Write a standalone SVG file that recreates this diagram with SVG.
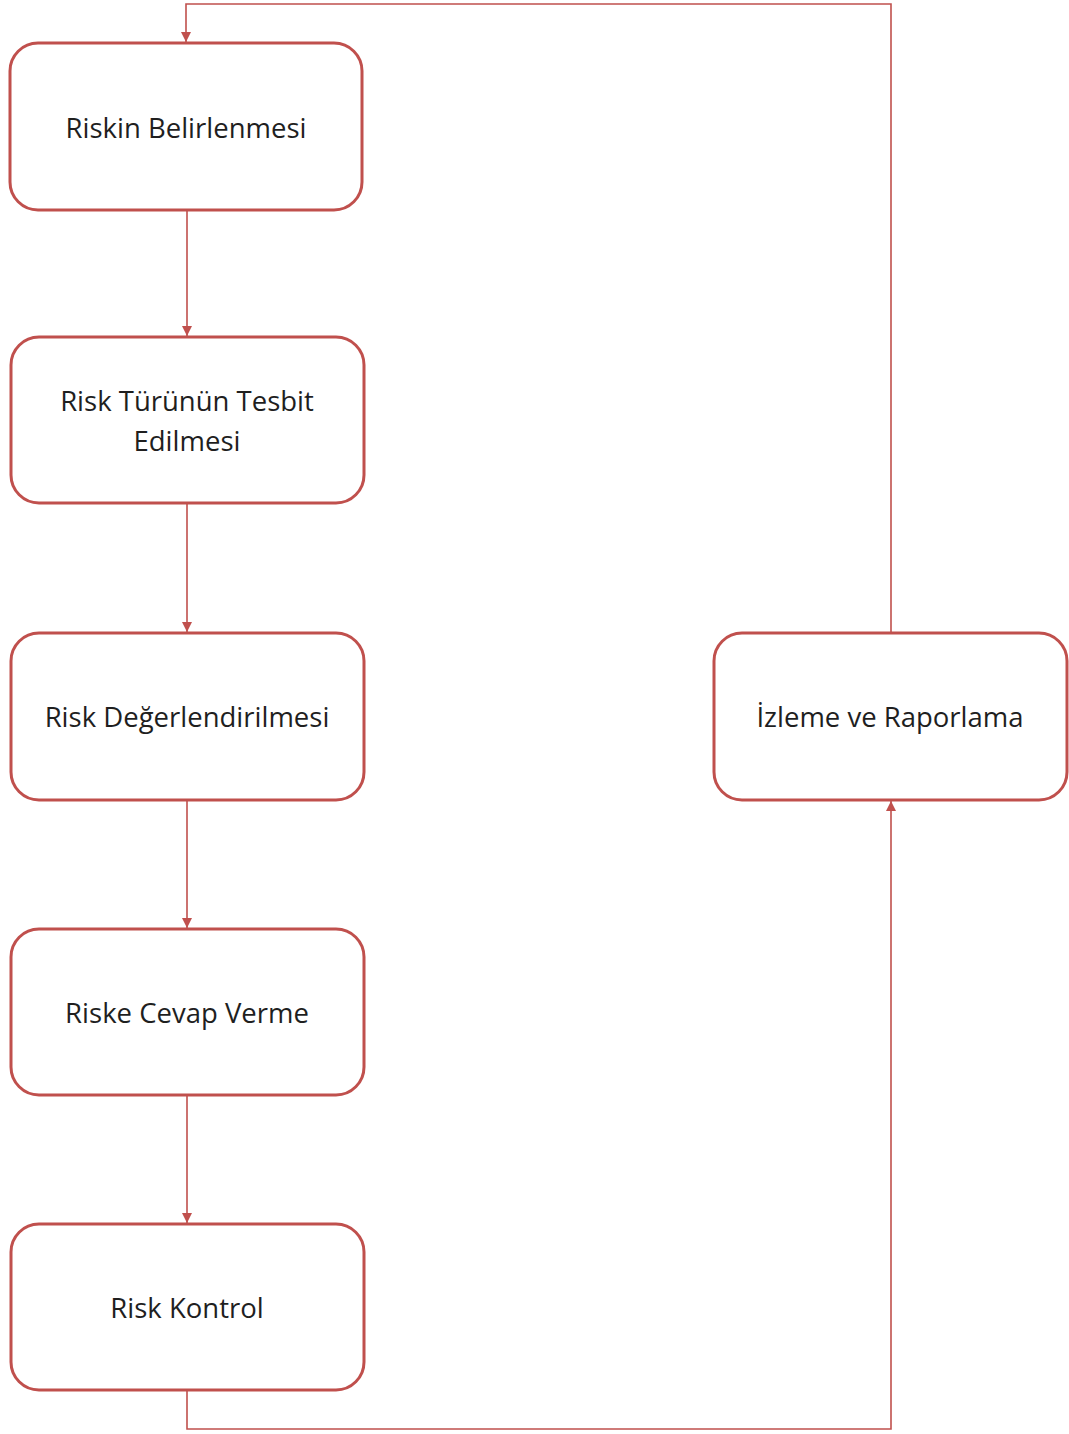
<svg xmlns="http://www.w3.org/2000/svg" width="1069" height="1434" viewBox="0 0 1069 1434">
<defs>
<marker id="arr" markerWidth="10" markerHeight="10" refX="10" refY="5" orient="auto" markerUnits="userSpaceOnUse">
<path d="M0,0 L10,5 L0,10 Z" fill="#C0504D"/>
</marker>
<style>
.box{fill:#fff;stroke:#C0504D;stroke-width:3}
.lbl{font-family:"Open Sans","Liberation Sans",sans-serif;font-size:27.5px;fill:#1f1f1f;text-anchor:middle}
.con{fill:none;stroke:#C0504D;stroke-width:1.6}
</style>
</defs>
<rect width="1069" height="1434" fill="#fff"/>
<g id="connectors">
<path class="con" d="M187,1390 V1429 H891 V801" marker-end="url(#arr)"/>
<path class="con" d="M891,633 V4 H186 V42" marker-end="url(#arr)"/>
<path class="con" d="M187,210 V336" marker-end="url(#arr)"/>
<path class="con" d="M187,503 V632" marker-end="url(#arr)"/>
<path class="con" d="M187,800 V928" marker-end="url(#arr)"/>
<path class="con" d="M187,1095 V1223" marker-end="url(#arr)"/>
</g>
<g id="n1"><rect class="box" x="10" y="43" width="352" height="167" rx="28"/><text class="lbl" x="186" y="138">Riskin Belirlenmesi</text></g>
<g id="n2"><rect class="box" x="11" y="337" width="353" height="166" rx="28"/><text class="lbl" x="187" y="411">Risk Türünün Tesbit</text><text class="lbl" x="187" y="451">Edilmesi</text></g>
<g id="n3"><rect class="box" x="11" y="633" width="353" height="167" rx="28"/><text class="lbl" x="187" y="727">Risk Değerlendirilmesi</text></g>
<g id="n4"><rect class="box" x="11" y="929" width="353" height="166" rx="28"/><text class="lbl" x="187" y="1023">Riske Cevap Verme</text></g>
<g id="n5"><rect class="box" x="11" y="1224" width="353" height="166" rx="28"/><text class="lbl" x="187" y="1318">Risk Kontrol</text></g>
<g id="n6"><rect class="box" x="714" y="633" width="353" height="167" rx="28"/><text class="lbl" x="890" y="727">İzleme ve Raporlama</text></g>
</svg>
